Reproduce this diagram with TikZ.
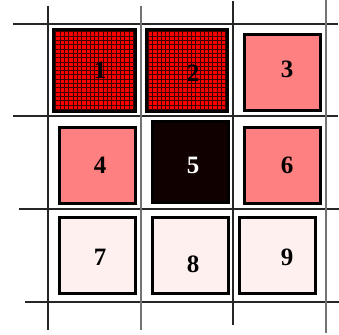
\documentclass[tikz,border=0pt]{standalone}
\usepackage{fontspec}
\setmainfont{Liberation Serif}
\begin{document}
\begin{tikzpicture}[x=1pt,y=-1pt,
  gline/.style={line width=1.3pt,draw=black!85},
  gline2/.style={line width=1.5pt,draw=black!55},
  sq/.style={draw=black,line width=3pt,inner sep=0pt,minimum width=#1,minimum height=#1},
  hatched/.style={fill=red,path picture={
      \draw[line width=0.7pt,draw=black!75!red] ([shift={(-2pt,-2pt)}]path picture bounding box.south west) grid[step=4.3pt] ([shift={(2pt,2pt)}]path picture bounding box.north east);}},
  lbl/.style={font=\fontsize{25}{25}\selectfont\bfseries,inner sep=0pt}]
\useasboundingbox (0,0) rectangle (339,334);
% grid lines
\coordinate (h1a) at (13,24);  \coordinate (h1b) at (338,24);
\coordinate (h2a) at (13,116); \coordinate (h2b) at (338,116);
\coordinate (h3a) at (19,209); \coordinate (h3b) at (339,209);
\coordinate (h4a) at (25,302); \coordinate (h4b) at (339,302);
\coordinate (v1a) at (48,6);   \coordinate (v1b) at (48,330);
\coordinate (v2a) at (141,6);  \coordinate (v2b) at (141,330);
\coordinate (v3a) at (233,1);  \coordinate (v3b) at (233,325);
\coordinate (v4a) at (326,0);  \coordinate (v4b) at (326,333);
\draw[gline] (h1a) -- (h1b);
\draw[gline] (h2a) -- (h2b);
\draw[gline] (h3a) -- (h3b);
\draw[gline] (h4a) -- (h4b);
\draw[gline] (v1a) -- (v1b);
\draw[gline2] (v2a) -- (v2b);
\draw[gline] (v3a) -- (v3b);
\draw[gline2] (v4a) -- (v4b);
% squares
\node[sq=82,hatched] (s1) at (94.5,70.5) {};
\node[sq=81,hatched] (s2) at (187,70.5) {};
\node[sq=76,fill={rgb,255:red,255;green,128;blue,128}] (s3) at (282.5,72.5) {};
\node[sq=76,fill={rgb,255:red,255;green,128;blue,128}] (s4) at (97.5,165) {};
\node[sq=76,minimum height=81,fill={rgb,255:red,16;green,0;blue,0}] (s5) at (190,162) {};
\node[sq=76,fill={rgb,255:red,255;green,128;blue,128}] (s6) at (282.5,165) {};
\node[sq=76,fill={rgb,255:red,255;green,240;blue,240}] (s7) at (97.5,255) {};
\node[sq=76,fill={rgb,255:red,255;green,240;blue,240}] (s8) at (190,255) {};
\node[sq=76,fill={rgb,255:red,255;green,240;blue,240}] (s9) at (277.5,255) {};
% labels
\node[lbl] (t1) at (100,70) {1};
\node[lbl] (t2) at (193,73) {2};
\node[lbl] (t3) at (287,69) {3};
\node[lbl] (t4) at (100,165) {4};
\node[lbl,text=white] (t5) at (193,165) {5};
\node[lbl] (t6) at (287,165) {6};
\node[lbl] (t7) at (100,257) {7};
\node[lbl] (t8) at (193,264) {8};
\node[lbl] (t9) at (287,257) {9};
\end{tikzpicture}
\end{document}
